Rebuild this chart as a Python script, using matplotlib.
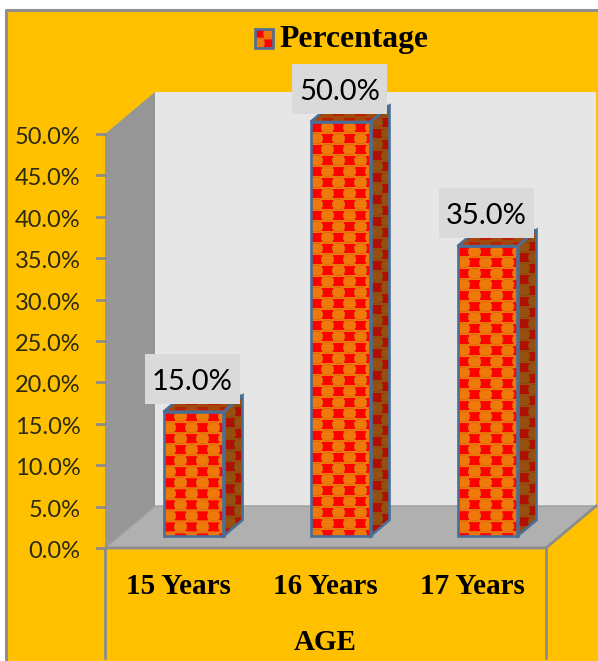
import numpy as np
import matplotlib
matplotlib.use("Agg")
import matplotlib.pyplot as plt
from matplotlib.colors import to_rgb
from matplotlib.patches import Polygon, Rectangle

categories = ["15 Years", "16 Years", "17 Years"]
percentages = [15.0, 50.0, 35.0]
y_ticks = [0, 5, 10, 15, 20, 25, 30, 35, 40, 45, 50]
legend_label = "Percentage"
x_title = "AGE"

W, H = 598, 661
AMBER = "#FFC000"
GRID = "#8C8C8C"
EDGE = "#4A6E96"
SERIF = "Liberation Serif"
SANS = "Lato"

fig = plt.figure(figsize=(W / 100, H / 100), dpi=100, facecolor="white")
bg = fig.add_axes([0, 0, 1, 1])
bg.set_xlim(0, W); bg.set_ylim(H, 0); bg.axis("off")

bg.add_patch(Rectangle((6, 10), W - 6, H - 10, fc=AMBER, ec="none", zorder=0))
bg.plot([6, 6, W], [H, 10, 10], color="#8F8F8F", lw=2.2, zorder=1)

# front plane of the 3-D chart: x in categories, y in percent
L, R, B, T = 105, 546, 548, 134
ax = fig.add_axes([L / W, 1 - B / H, (R - L) / W, (B - T) / H])
ax.patch.set_alpha(0)
for s in ax.spines.values():
    s.set_visible(False)
ax.set_xticks([]); ax.set_yticks([])

# pixel-to-data conversion for the oblique depth
px_x = 3 / (R - L); px_y = 50 / (B - T)
DX, DY = 50 * px_x, 42 * px_y

# walls and floor
ax.add_patch(Polygon([(0, 0), (DX, DY), (3 + DX, DY), (3, 0)], fc="#B0B0B0", ec="none", clip_on=False, zorder=1))
ax.add_patch(Polygon([(DX, DY), (3 + DX, DY), (3 + DX, 50 + DY), (DX, 50 + DY)], fc="#E6E6E6", ec="none", clip_on=False, zorder=1))
ax.add_patch(Polygon([(0, 0), (DX, DY), (DX, 50 + DY), (0, 50)], fc="#969696", ec="none", clip_on=False, zorder=2))
ax.plot([0, DX, 3 + DX], [0, DY, DY], color="#9C9C9C", lw=1, clip_on=False, zorder=2)
ax.plot([0, 3, 3 + DX], [0, 0, DY], color=GRID, lw=2, clip_on=False, zorder=3)
ax.plot([0, 0], [0, -110 * px_y], color=GRID, lw=2, clip_on=False, zorder=3)
ax.plot([3, 3], [0, -110 * px_y], color=GRID, lw=2, clip_on=False, zorder=3)

# y axis ticks and labels
for v in y_ticks:
    ax.plot([-8 * px_x, 0], [v, v], color=GRID, lw=2, clip_on=False, zorder=3)
    ax.text(-24.5 * px_x, v - 3.5 * px_y, f"{v:.1f}%", ha="right", va="center", fontsize=17,
            family=SANS, color="#2A2A10", clip_on=False)


def make_tile(base_col, square_col, ring_col, n=22):
    """One repeat of the orange rings / red squares fill, n px square."""
    t = np.zeros((n, n, 3))
    t[:] = to_rgb(base_col)
    yy, xx = np.mgrid[0:n, 0:n]
    for cx, cy in [(5, 5), (16, 16)]:
        m = (np.abs(xx - cx) <= 5) & (np.abs(yy - cy) <= 4)
        t[m] = to_rgb(square_col)
    for cx, cy in [(5, 16), (16, 5), (27, 16), (-6, 5), (5, -6), (16, 27), (16, -6), (5, 27)]:
        r = np.hypot((xx - cx) / 1.1, yy - cy)
        t[r < 5] = to_rgb(base_col)
        t[(r >= 5) & (r < 6)] = to_rgb(ring_col)
    return t


def textured(poly, tile, zorder):
    img = np.tile(tile, (24, 26, 1))
    xs, ys = zip(*poly)
    x0, y1 = min(xs), max(ys)
    im = ax.imshow(img, extent=(x0, x0 + img.shape[1] * px_x, y1 - img.shape[0] * px_y, y1),
                   origin="upper", aspect="auto", interpolation="bilinear", zorder=zorder)
    patch = Polygon(poly, fc="none", ec=EDGE, lw=1.9, clip_on=False, zorder=zorder + 0.3)
    ax.add_patch(patch)
    im.set_clip_box(fig.bbox)
    im.set_clip_path(patch)


front_tile = make_tile("#EF7A0A", "#FF0000", "#DE6C10")
side_tile = make_tile("#96500F", "#B01000", "#8A4A10")
top_tile = make_tile("#A8480C", "#B82000", "#9A4A10")

bar_w = 60 * px_x
bar_dx, bar_dy = 19 * px_x, 16 * px_y
base = 12 * px_y
for i, (cat, v) in enumerate(zip(categories, percentages)):
    x0 = i + 0.5 + 15 * px_x - bar_w / 2
    x1 = x0 + bar_w
    y0, y1 = base, base + v
    zo = 4 + i
    textured([(x1, y0), (x1 + bar_dx, y0 + bar_dy), (x1 + bar_dx, y1 + bar_dy), (x1, y1)], side_tile, zo)
    textured([(x0, y1), (x1, y1), (x1 + bar_dx, y1 + bar_dy), (x0 + bar_dx, y1 + bar_dy)], top_tile, zo + 0.1)
    textured([(x0, y0), (x1, y0), (x1, y1), (x0, y1)], front_tile, zo + 0.2)
    lx, ly = i + 0.5 + 14 * px_x, y1 + 33 * px_y
    ax.add_patch(Rectangle((lx - 47.5 * px_x, ly - 25 * px_y), 95 * px_x, 50 * px_y,
                           fc="#DADADA", ec="none", clip_on=False, zorder=10))
    ax.text(lx, ly - 3 * px_y, f"{v:.1f}%", ha="center", va="center",
            fontsize=21, family=SANS, color="black", zorder=11, clip_on=False)
    ax.text(i + 0.5, -39 * px_y, cat, ha="center", va="center", fontsize=21,
            family=SERIF, fontweight="bold", clip_on=False)

ax.set_xlim(0, 3); ax.set_ylim(0, 50)
ax.text(1.5, -95 * px_y, x_title, ha="center", va="center", fontsize=21,
        family=SERIF, fontweight="bold", clip_on=False)

# legend
bg.imshow(front_tile, extent=(255, 273, 48, 29), aspect="auto", interpolation="bilinear", zorder=5)
bg.set_xlim(0, W); bg.set_ylim(H, 0)
bg.add_patch(Rectangle((255, 29), 18, 19, fc="none", ec=EDGE, lw=1.9, zorder=6))
bg.text(279, 39, legend_label, ha="left", va="center", fontsize=22.8, family=SERIF, fontweight="bold", zorder=6)

fig.savefig("out.png", dpi=100, facecolor="white")
